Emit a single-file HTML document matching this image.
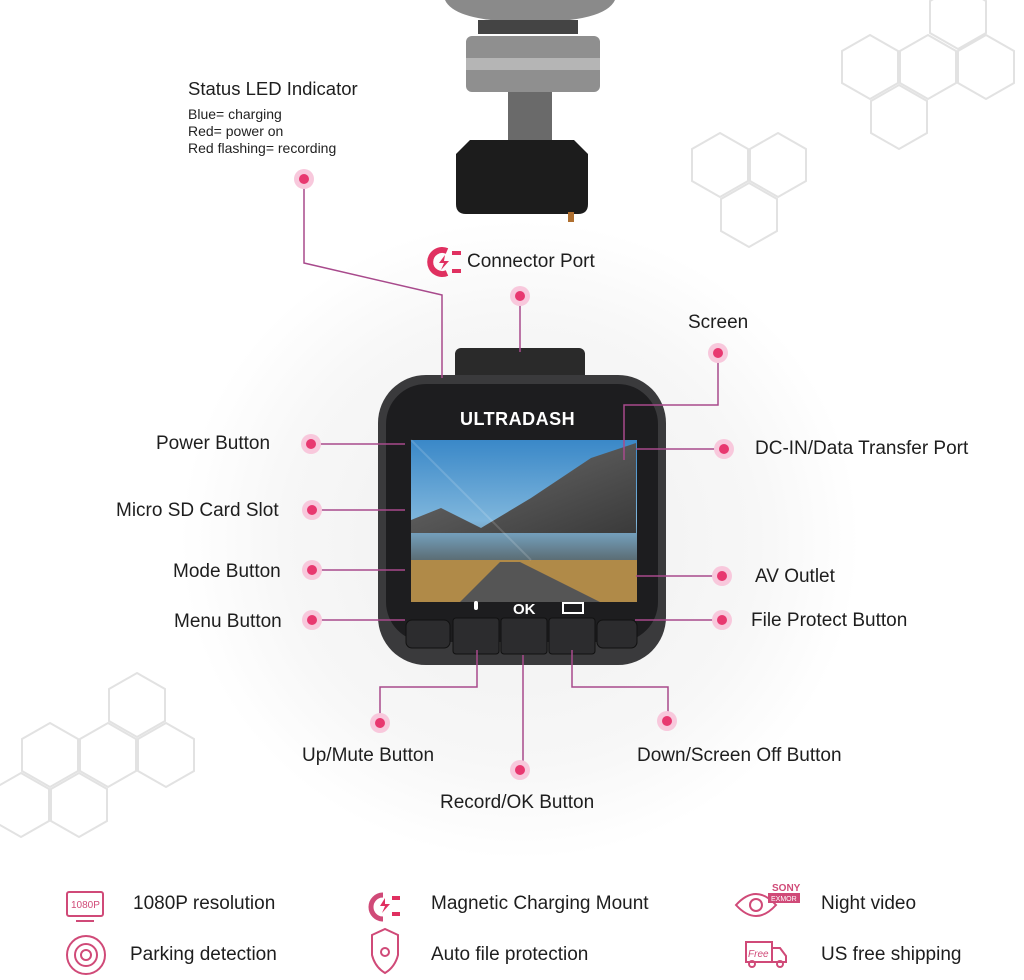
<!DOCTYPE html>
<html><head><meta charset="utf-8"><style>
body{margin:0;width:1024px;height:980px;overflow:hidden;background:#fff;font-family:"Liberation Sans",sans-serif;color:#222}
svg{position:absolute;left:0;top:0}
.t{position:absolute;font-size:19px;white-space:nowrap;color:#1e1e1e}
.s{position:absolute;font-size:14px;white-space:nowrap;color:#222}
.b{position:absolute;font-size:19px;white-space:nowrap;color:#1e1e1e}
</style></head><body>
<svg width="1024" height="980" viewBox="0 0 1024 980">
<defs>
<radialGradient id="glow" cx="0.5" cy="0.5" r="0.5"><stop offset="0" stop-color="#efefef"/><stop offset="0.7" stop-color="#f7f7f7"/><stop offset="1" stop-color="#fff"/></radialGradient>
<linearGradient id="sky" x1="0" y1="0" x2="0" y2="1"><stop offset="0" stop-color="#3a88c8"/><stop offset="0.5" stop-color="#7fb6dc"/><stop offset="0.75" stop-color="#5a6a70"/><stop offset="0.8" stop-color="#b89050"/><stop offset="1" stop-color="#6a6258"/></linearGradient>
<linearGradient id="mt" x1="0" y1="0" x2="1" y2="1"><stop offset="0" stop-color="#d8dde4"/><stop offset="0.4" stop-color="#5a5a5a"/><stop offset="1" stop-color="#3a3a3a"/></linearGradient>
</defs>
<ellipse cx="520" cy="540" rx="340" ry="320" fill="url(#glow)"/>
<g fill="none" stroke="#e2e2e2" stroke-width="2">
<path d="M870 35l28 16v32l-28 16-28-16v-32z M928 35l28 16v32l-28 16-28-16v-32z M986 35l28 16v32l-28 16-28-16v-32z M899 85l28 16v32l-28 16-28-16v-32z M958 -15l28 16v32l-28 16-28-16v-32z M720 133l28 16v32l-28 16-28-16v-32z M778 133l28 16v32l-28 16-28-16v-32z M749 183l28 16v32l-28 16-28-16v-32z"/>
<path d="M137 673l28 16v32l-28 16-28-16v-32z M108 723l28 16v32l-28 16-28-16v-32z M166 723l28 16v32l-28 16-28-16v-32z M50 723l28 16v32l-28 16-28-16v-32z M79 773l28 16v32l-28 16-28-16v-32z M21 773l28 16v32l-28 16-28-16v-32z"/>
</g>
<path d="M445 0h170q-10 22-85 22q-75 0-85-22z" fill="#8a8a8a"/>
<rect x="478" y="20" width="100" height="14" fill="#444"/>
<rect x="466" y="36" width="134" height="56" rx="6" fill="#8f8f8f"/>
<rect x="466" y="58" width="134" height="12" fill="#b5b5b5"/>
<rect x="508" y="92" width="44" height="50" fill="#6a6a6a"/>
<path d="M470 140h104l14 14v50q0 10-10 10h-112q-10 0-10-10v-50z" fill="#1c1c1c"/>
<rect x="568" y="212" width="6" height="10" fill="#b07030"/>
<rect x="455" y="348" width="130" height="48" rx="6" fill="#2a2a2a"/>
<rect x="378" y="375" width="288" height="290" rx="48" fill="#3a3a3c"/>
<rect x="386" y="384" width="272" height="258" rx="40" fill="#1d1d1f"/>
<rect x="411" y="440" width="226" height="162" fill="url(#sky)"/>
<path d="M411 520l30 -12 40 20 50 -30 60 -40 30 -10 15 -5v90h-225z" fill="url(#mt)"/>
<path d="M411 560h226v42h-226z" fill="#b08a48"/>
<path d="M460 602l40 -40h20l80 40z" fill="#555"/>
<path d="M411 440l120 120" stroke="#fff" stroke-opacity=".15" stroke-width="2"/>
<text x="460" y="425" fill="#fff" font-size="18" font-weight="bold" font-family="Liberation Sans" letter-spacing="0.5">ULTRADASH</text>
<text x="513" y="614" fill="#fff" font-size="15" font-weight="bold" font-family="Liberation Sans">OK</text>
<rect x="563" y="603" width="20" height="10" fill="none" stroke="#fff" stroke-width="2"/>
<rect x="474" y="601" width="4" height="9" rx="2" fill="#fff"/>
<g fill="#2c2c2e" stroke="#111">
<rect x="406" y="620" width="44" height="28" rx="6"/>
<rect x="453" y="618" width="46" height="36" rx="3"/>
<rect x="501" y="618" width="46" height="36" rx="3"/>
<rect x="549" y="618" width="46" height="36" rx="3"/>
<rect x="597" y="620" width="40" height="28" rx="6"/>
</g>
<g stroke="#a84a8c" stroke-width="1.5" fill="none">
<path d="M304 185v78l138 32v83"/>
<path d="M520 300v52"/>
<path d="M718 358v47h-94v55"/>
<path d="M316 444h89 M316 510h89 M316 570h89 M316 620h89"/>
<path d="M718 449h-82 M718 576h-82 M718 620h-83"/>
<path d="M477 650v37h-97v32 M523 655v111 M572 650v37h96v30"/>
</g>
<g fill="#f8c8dc">
<circle cx="304" cy="179" r="10"/><circle cx="520" cy="296" r="10"/><circle cx="718" cy="353" r="10"/>
<circle cx="311" cy="444" r="10"/><circle cx="312" cy="510" r="10"/><circle cx="312" cy="570" r="10"/><circle cx="312" cy="620" r="10"/>
<circle cx="724" cy="449" r="10"/><circle cx="722" cy="576" r="10"/><circle cx="722" cy="620" r="10"/>
<circle cx="380" cy="723" r="10"/><circle cx="520" cy="770" r="10"/><circle cx="667" cy="721" r="10"/>
</g>
<g fill="#e83870">
<circle cx="304" cy="179" r="5"/><circle cx="520" cy="296" r="5"/><circle cx="718" cy="353" r="5"/>
<circle cx="311" cy="444" r="5"/><circle cx="312" cy="510" r="5"/><circle cx="312" cy="570" r="5"/><circle cx="312" cy="620" r="5"/>
<circle cx="724" cy="449" r="5"/><circle cx="722" cy="576" r="5"/><circle cx="722" cy="620" r="5"/>
<circle cx="380" cy="723" r="5"/><circle cx="520" cy="770" r="5"/><circle cx="667" cy="721" r="5"/>
</g>
<path d="M447 251a12 12 0 1 0 0 22" stroke="#e03060" stroke-width="6" fill="none"/>
<path d="M445 255l-6 8h5l-3 7 8-9h-5z" fill="#e03060"/>
<rect x="452" y="251" width="9" height="4" fill="#e03060"/><rect x="452" y="269" width="9" height="4" fill="#e03060"/>
<g fill="none" stroke="#d04a78" stroke-width="2">
<rect x="67" y="892" width="36" height="24" rx="2"/><path d="M76 921h18"/>
<circle cx="86" cy="955" r="19"/><circle cx="86" cy="955" r="11"/><circle cx="86" cy="955" r="5"/>
<path d="M383 895a12 12 0 1 0 0 24" stroke-width="5"/>
<path d="M372 935l13 -6 13 6v20q-3 12 -13 18q-10 -6 -13 -18z"/><circle cx="385" cy="952" r="4"/>
<path d="M736 905q20 -22 40 0q-20 22 -40 0z"/><circle cx="756" cy="905" r="6"/>
<rect x="746" y="942" width="26" height="20"/><path d="M772 948h8l6 8v6h-14"/><circle cx="752" cy="964" r="3"/><circle cx="780" cy="964" r="3"/>
</g>
<text x="71" y="908" font-size="10" fill="#d04a78" font-family="Liberation Sans">1080P</text>
<path d="M385 898l-5 8h5l-3 7 8-9h-5z" fill="#e03060"/>
<rect x="392" y="896" width="8" height="4" fill="#e03060"/><rect x="392" y="912" width="8" height="4" fill="#e03060"/>
<text x="772" y="891" font-size="10" font-weight="bold" fill="#d04a78" font-family="Liberation Sans">SONY</text>
<rect x="768" y="893" width="32" height="10" fill="#d04a78"/>
<text x="771" y="901" font-size="7" fill="#fff" font-family="Liberation Sans">EXMOR</text>
<text x="748" y="957" font-size="10" font-style="italic" fill="#d04a78" font-family="Liberation Sans">Free</text>
</svg>
<div class="t" style="left:188px;top:78px;font-size:18.5px">Status LED Indicator</div>
<div class="s" style="left:188px;top:106px">Blue= charging</div>
<div class="s" style="left:188px;top:123px">Red= power on</div>
<div class="s" style="left:188px;top:140px">Red flashing= recording</div>
<div class="t" style="left:467px;top:251px">Connector Port</div>
<div class="t" style="left:688px;top:312px">Screen</div>
<div class="t" style="left:156px;top:433px">Power Button</div>
<div class="t" style="left:116px;top:500px">Micro SD Card Slot</div>
<div class="t" style="left:173px;top:561px">Mode Button</div>
<div class="t" style="left:174px;top:611px">Menu Button</div>
<div class="t" style="left:755px;top:438px">DC-IN/Data Transfer Port</div>
<div class="t" style="left:755px;top:566px">AV Outlet</div>
<div class="t" style="left:751px;top:610px">File Protect Button</div>
<div class="t" style="left:302px;top:745px">Up/Mute Button</div>
<div class="t" style="left:637px;top:745px">Down/Screen Off Button</div>
<div class="t" style="left:440px;top:792px">Record/OK Button</div>
<div class="b" style="left:133px;top:893px">1080P resolution</div>
<div class="b" style="left:130px;top:944px">Parking detection</div>
<div class="b" style="left:431px;top:893px">Magnetic Charging Mount</div>
<div class="b" style="left:431px;top:944px">Auto file protection</div>
<div class="b" style="left:821px;top:893px">Night video</div>
<div class="b" style="left:821px;top:944px">US free shipping</div>
</body></html>
